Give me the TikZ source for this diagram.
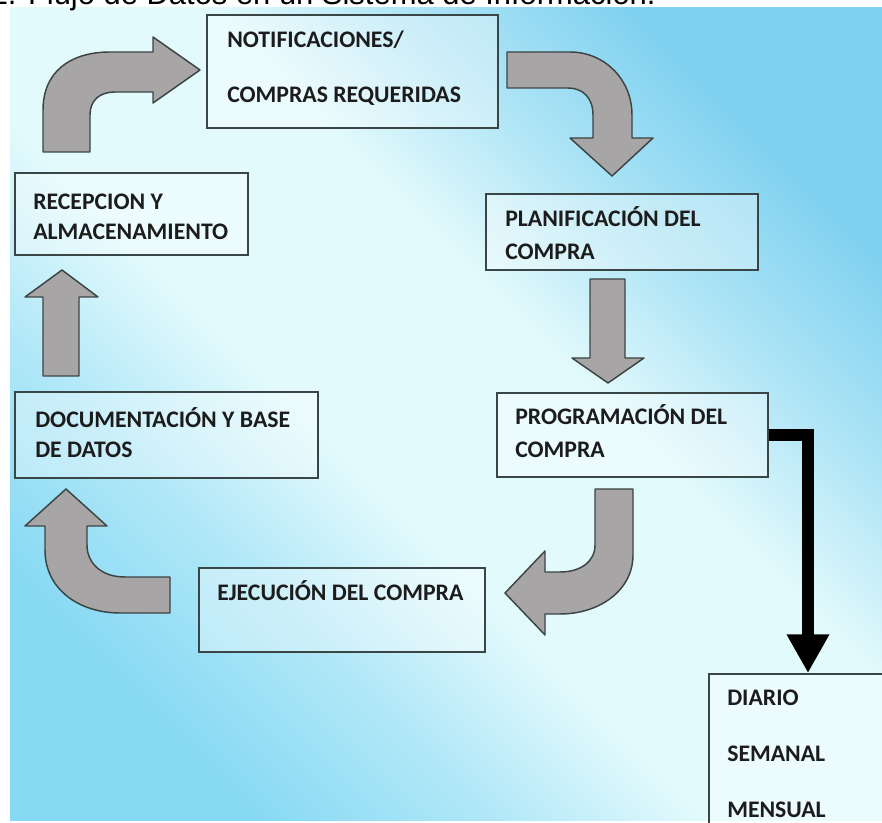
\documentclass[tikz,border=0pt]{standalone}
\usepackage{fontspec}
\setmainfont{Carlito}
\newfontfamily\titlefont{Liberation Sans}
\usetikzlibrary{arrows.meta,fit}

\definecolor{skyTR}{HTML}{7FD1F0}
\definecolor{skyBL}{HTML}{88D9F4}
\definecolor{paleMid}{HTML}{E3FAFC}
\definecolor{boxedge}{HTML}{3A4646}
\definecolor{arrowgray}{HTML}{A7A5A6}
\definecolor{arrowedge}{HTML}{3C4444}
\definecolor{inkdark}{HTML}{1C1C1C}

% diagonal sky band: blue in two corners, pale across the middle
\pgfdeclareverticalshading{skyband}{100bp}{%
  color(0bp)=(skyBL); color(25bp)=(skyBL);
  color(35bp)=(skyBL!55!paleMid); color(44bp)=(paleMid);
  color(57bp)=(paleMid); color(66bp)=(skyTR!55!paleMid);
  color(75bp)=(skyTR); color(100bp)=(skyTR)}

\begin{document}
\begin{tikzpicture}[
  x=0.75pt, y=-0.75pt,
  box/.style={draw=boxedge, line width=1.4pt, fill=white, fill opacity=0.35,
              inner sep=0pt},
  lbl/.style={anchor=base west, inner sep=0pt, text=inkdark,
              font=\fontsize{17.8}{20}\selectfont\bfseries},
  blockarrow/.style={fill=arrowgray, draw=arrowedge, line width=1.1pt,
                     line join=round},
  flowline/.style={draw=black, line width=9.5pt, line join=miter,
                   -{Triangle[width=30pt,length=29pt]}}
]
\useasboundingbox (0,0) rectangle (882,823);

% page and gradient panel
\fill[white] (0,0) rectangle (882,823);
\shade[shading=skyband, shading angle=-45] (10,8) rectangle (882,820);

% heading
\node[anchor=base west, inner sep=0pt, text=black,
      font=\titlefont\fontsize{23.2}{26}\selectfont] (title) at (-9.5,5)
  {2. Flujo de Datos en un Sistema de Información.};

% boxes
\node[box, fit={(207,15) (498,128)}]  (notif)  {};
\node[box, fit={(15,173) (248,255)}]  (recep)  {};
\node[box, fit={(486,194) (758,270)}] (plan)   {};
\node[box, fit={(497,393) (768,477)}] (prog)   {};
\node[box, fit={(15,392) (318,478)}]  (docu)   {};
\node[box, fit={(199,568) (485,652)}] (ejec)   {};
\node[box, fit={(709,674) (905,905)}] (diario) {};

% box texts
\node[lbl] (notifA) at (227,48)  {NOTIFICACIONES/};
\node[lbl] (notifB) at (227,103) {COMPRAS REQUERIDAS};
\node[lbl] (recepA) at (33,210)  {RECEPCION Y};
\node[lbl] (recepB) at (33,240)  {ALMACENAMIENTO};
\node[lbl] (planA)  at (505,227) {PLANIFICACIÓN DEL};
\node[lbl] (planB)  at (505,260) {COMPRA};
\node[lbl] (progA)  at (515,425) {PROGRAMACIÓN DEL};
\node[lbl] (progB)  at (515,458) {COMPRA};
\node[lbl] (docuA)  at (35,428)  {DOCUMENTACIÓN Y BASE};
\node[lbl] (docuB)  at (35,458)  {DE DATOS};
\node[lbl] (ejecA)  at (217,600) {EJECUCIÓN DEL COMPRA};
\node[lbl] (diaA)   at (727,705) {DIARIO};
\node[lbl] (diaB)   at (727,761) {SEMANAL};
\node[lbl] (diaC)   at (727,817) {MENSUAL};

% grey block arrows of the cycle
% up and to the right, into the notifications box
\path[blockarrow] (43,152) -- (43,110) .. controls (43,72) and (70,52) .. (110,52)
  -- (153,52) -- (153,37) -- (200,70) -- (153,103) -- (153,92) -- (115,92)
  .. controls (100,92) and (90,100) .. (90,115) -- (90,152) -- cycle;
% right and down, into the planning box
\path[blockarrow] (507,52) -- (570,52) .. controls (605,52) and (632,80) .. (632,115)
  -- (632,138) -- (653,138) -- (612,176) -- (570,138) -- (593,138) -- (593,115)
  .. controls (593,98) and (583,88) .. (568,88) -- (507,88) -- cycle;
% straight down, planning to scheduling
\path[blockarrow] (590,279) -- (625,279) -- (625,358) -- (644,358) -- (608,383)
  -- (572,358) -- (590,358) -- cycle;
% down and to the left, into the execution box
\path[blockarrow] (595,489) -- (633,489) -- (633,555)
  .. controls (633,590) and (600,614) .. (560,614) -- (545,614) -- (545,635)
  -- (505,593) -- (545,551) -- (545,572) -- (560,572)
  .. controls (580,572) and (595,562) .. (595,545) -- cycle;
% left and up, into the documentation box
\path[blockarrow] (170,577) -- (125,577) .. controls (100,577) and (87,562) .. (87,545)
  -- (87,526) -- (107,526) -- (66,489) -- (25,526) -- (45,526) -- (45,550)
  .. controls (45,590) and (80,613) .. (120,613) -- (170,613) -- cycle;
% straight up, documentation to reception
\path[blockarrow] (43,376) -- (43,297) -- (25,297) -- (62,270) -- (98,297)
  -- (79,297) -- (79,376) -- cycle;

% black connector to the reporting periods
\coordinate (bend) at (808,435);
\draw[flowline] (prog.east) -- (bend) -- (bend |- diario.north);

\end{tikzpicture}
\end{document}
